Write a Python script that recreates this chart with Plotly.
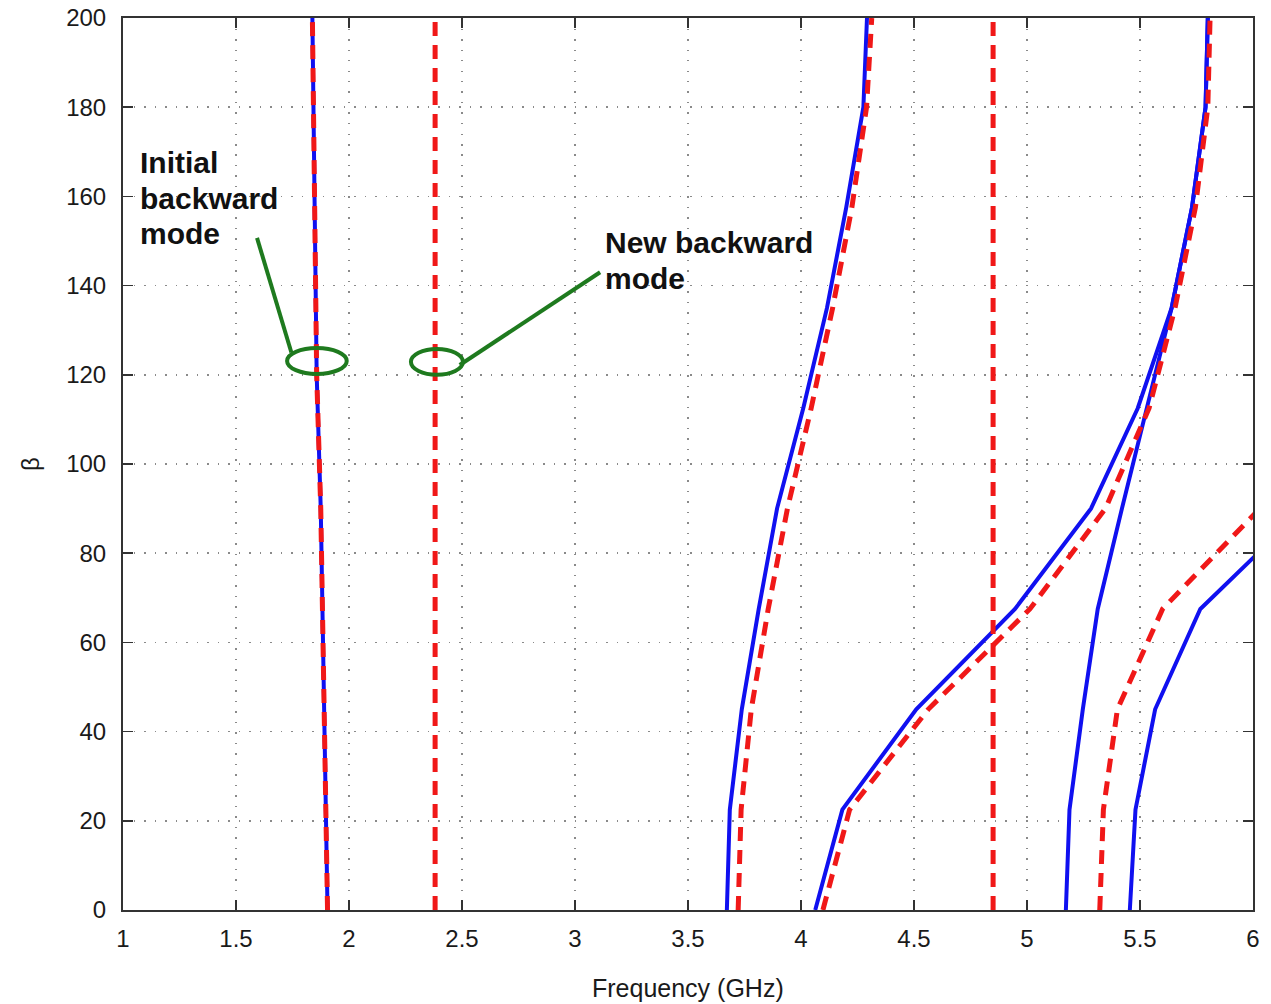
import plotly.graph_objects as go

# ---- data (frequency in GHz, beta) ----
beta_nodes = [0, 22.5, 45, 67.5, 90, 112.5, 135, 157.5, 180, 200]

# initial backward mode (blue solid and red dashed overlap)
blue1_f = [1.905, 1.89, 1.875, 1.857, 1.846, 1.838]
blue1_b = [0, 45, 90, 120, 160, 200]
red1_f = [1.905, 1.89, 1.875, 1.857, 1.846, 1.838]
red1_b = [0, 45, 90, 120, 160, 200]

# solid blue curves
blue2_f = [3.672, 3.685, 3.738, 3.813, 3.894, 4.01, 4.115, 4.20, 4.276, 4.292]
blue3_f = [4.063, 4.183, 4.51, 4.947, 5.283, 5.49, 5.64, 5.73, 5.79, 5.80]
blue4_f = [5.172, 5.188, 5.247, 5.313, 5.42, 5.53, 5.64, 5.73, 5.79, 5.80]
blue5_f = [5.455, 5.48, 5.567, 5.767, 6.226]
blue5_b = [0, 22.5, 45, 67.5, 90]

# dashed red curves
red_new_f = [2.381, 2.381]          # new backward mode
red_new_b = [0, 200]
red2_f = [3.722, 3.735, 3.78, 3.855, 3.94, 4.045, 4.14, 4.225, 4.29, 4.313]
red3_f = [4.097, 4.215, 4.563, 5.013, 5.347, 5.54, 5.655, 5.745, 5.80, 5.81]
red_vert_f = [4.85, 4.85]
red_vert_b = [0, 200]
red4_f = [5.322, 5.338, 5.40, 5.60, 6.03]
red4_b = [0, 22.5, 45, 67.5, 90]

x_ticks = [1, 1.5, 2, 2.5, 3, 3.5, 4, 4.5, 5, 5.5, 6]
x_tick_text = ["1", "1.5", "2", "2.5", "3", "3.5", "4", "4.5", "5", "5.5", "6"]
y_ticks = [0, 20, 40, 60, 80, 100, 120, 140, 160, 180, 200]

BLUE = "#1010f0"
RED = "#f01818"
GREEN = "#1e7a1e"
FONT = "Liberation Sans, Arial, sans-serif"

fig = go.Figure()

blue_sets = [
    (blue1_f, blue1_b),
    (blue2_f, beta_nodes),
    (blue3_f, beta_nodes),
    (blue4_f, beta_nodes),
    (blue5_f, blue5_b),
]
for fx, by in blue_sets:
    fig.add_trace(go.Scatter(x=fx, y=by, mode="lines",
                             line=dict(color=BLUE, width=4), showlegend=False))

red_sets = [
    (red1_f, red1_b),
    (red_new_f, red_new_b),
    (red2_f, beta_nodes),
    (red3_f, beta_nodes),
    (red_vert_f, red_vert_b),
    (red4_f, red4_b),
]
for fx, by in red_sets:
    fig.add_trace(go.Scatter(x=fx, y=by, mode="lines",
                             line=dict(color=RED, width=5, dash="14px,9px"),
                             showlegend=False))

# ---- annotations (green ellipses and pointer lines) ----
fig.add_shape(type="circle", xref="x", yref="y",
              x0=1.726, x1=1.99, y0=120.2, y1=126.0,
              line=dict(color=GREEN, width=4))
fig.add_shape(type="circle", xref="x", yref="y",
              x0=2.274, x1=2.504, y0=120.0, y1=125.8,
              line=dict(color=GREEN, width=4))
fig.add_shape(type="line", xref="x", yref="y",
              x0=1.593, y0=150.7, x1=1.745, y1=125.0,
              line=dict(color=GREEN, width=4))
fig.add_shape(type="line", xref="x", yref="y",
              x0=3.111, y0=143.0, x1=2.49, y1=122.2,
              line=dict(color=GREEN, width=4))

label_font = dict(family=FONT, size=30, color="#111111")
for txt, xv, yv in [("<b>Initial</b>", 1.068, 167.6),
                    ("<b>backward</b>", 1.068, 159.5),
                    ("<b>mode</b>", 1.068, 151.6),
                    ("<b>New backward</b>", 3.124, 149.7),
                    ("<b>mode</b>", 3.124, 141.6)]:
    fig.add_annotation(x=xv, y=yv, xref="x", yref="y", text=txt, showarrow=False,
                       xanchor="left", yanchor="middle", font=label_font)

# axis titles
fig.add_annotation(x=0.5, y=0, xref="paper", yref="paper", text="Frequency (GHz)",
                   showarrow=False, xanchor="center", yanchor="middle", yshift=-78,
                   font=dict(family=FONT, size=25, color="#1a1a1a"))
fig.add_annotation(x=0, y=0.5, xref="paper", yref="paper", text="β",
                   showarrow=False, xanchor="center", yanchor="middle", xshift=-93,
                   textangle=-90, font=dict(family=FONT, size=24, color="#1a1a1a"))

axis_common = dict(
    showline=True, linecolor="#333333", linewidth=2, mirror="ticks",
    ticks="inside", ticklen=10, tickwidth=1.5, tickcolor="#333333",
    showgrid=True, gridcolor="#8a8a8a", gridwidth=1.5, griddash="1.5px,9px",
    zeroline=False, automargin=False,
    tickfont=dict(family=FONT, size=24, color="#1a1a1a"),
)

fig.update_xaxes(range=[1, 6], tickvals=x_ticks, ticktext=x_tick_text,
                 ticklabelstandoff=6, **axis_common)
fig.update_yaxes(range=[0, 200], tickvals=y_ticks,
                 ticklabelstandoff=10, **axis_common)

fig.update_layout(
    width=1271, height=1004,
    margin=dict(l=123, r=18, t=18, b=94),
    paper_bgcolor="white", plot_bgcolor="white",
    showlegend=False,
)

fig.write_html("out.html",
               config={"displayModeBar": False, "staticPlot": True},
               post_script="document.body.style.margin='0';document.body.style.overflow='hidden';")
